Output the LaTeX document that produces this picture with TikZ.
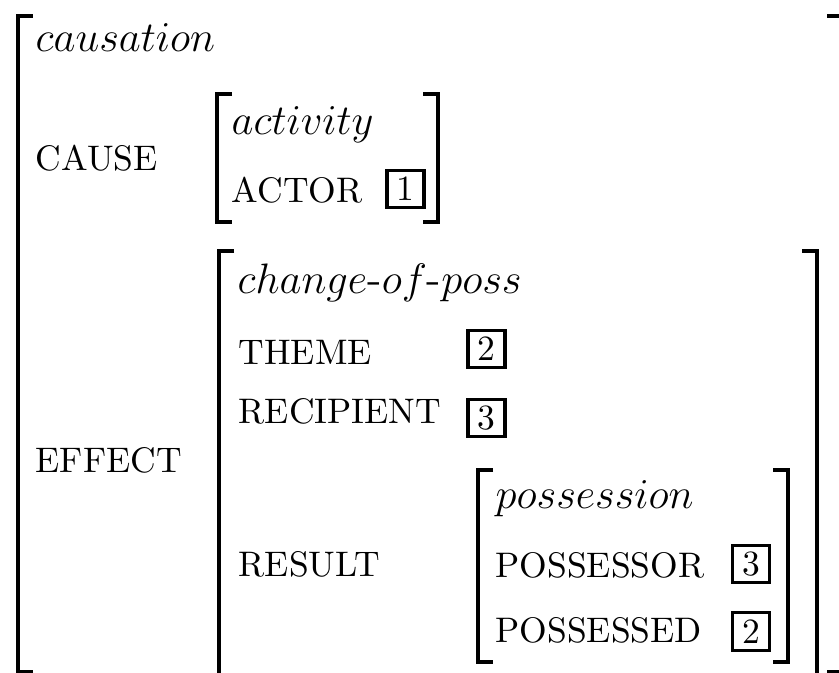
\documentclass[tikz,border=0pt]{standalone}
\usepackage{amsmath}
\usepackage{amssymb}

\begin{document}
\begin{tikzpicture}[x=0.2817pt,y=-0.2817pt,
	brk/.style={line width=1.1pt},
	attr/.style={anchor=base west,inner sep=0pt},
	typ/.style={anchor=base west,inner sep=0pt,font=\fontsize{12.5}{15}\selectfont},
	tag/.style={draw,line width=0.9pt,inner sep=0pt,minimum width=10.4pt,minimum height=10.6pt}]
	\useasboundingbox (0,0) rectangle (839,673);
	
	% brackets: left/right/top/bottom
	\foreach \l/\r/\t/\b in {18/842/16/672,217/438/94/222,219/817/251/710,478/788/470/662}
	{
		\draw[brk] (\l+15,\t) -- (\l,\t) -- (\l,\b) -- (\l+15,\b);
		\draw[brk] (\r-15,\t) -- (\r,\t) -- (\r,\b) -- (\r-15,\b);
	}
	
	\node[typ] (causation) at (35,52) {$causation$};
	\node[attr] (cause) at (35,171) {CAUSE};
	\node[typ] (activity) at (231,135) {$activity$};
	\node[attr] (actor) at (231,203) {ACTOR};
	\node[tag] (t1) at (405.5,189) {1};
	
	\node[attr] (effect) at (35,473) {EFFECT};
	\node[typ] (chposs) at (237,294) {$change$-$of$-$poss$};
	\node[attr] (theme) at (238,365) {THEME};
	\node[tag] (t2a) at (486.5,349) {2};
	\node[attr] (recip) at (238,424) {RECIPIENT};
	\node[tag] (t3a) at (486.5,418) {3};
	\node[attr] (result) at (238,577) {RESULT};
	
	\node[typ] (possession) at (495,509) {$possession$};
	\node[attr] (possessor) at (495,578) {POSSESSOR};
	\node[tag] (t3b) at (751,564) {3};
	\node[attr] (possessed) at (495,643) {POSSESSED};
	\node[tag] (t2b) at (751,631.5) {2};
\end{tikzpicture}
\end{document}
